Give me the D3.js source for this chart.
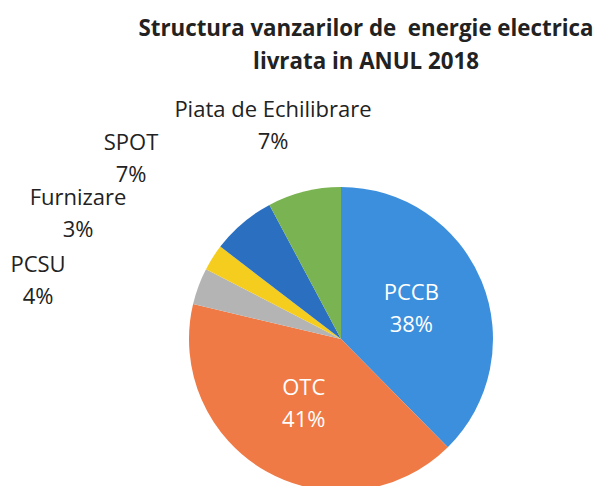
<!DOCTYPE html>
<html>
<head>
<meta charset="utf-8">
<script src="https://cdn.jsdelivr.net/npm/d3@7"></script>
<style>
  html, body { margin: 0; padding: 0; background: #fff; }
  text { white-space: pre; }
</style>
</head>
<body>
<svg id="chart" width="598" height="486"></svg>
<script>
// ---- data ----
const titleLines = ["Structura vanzarilor de  energie electrica", "livrata in ANUL 2018"];
const categories = ["PCCB", "OTC", "PCSU", "Furnizare", "SPOT", "Piata de Echilibrare"];
const shares = [37.6, 41.1, 3.9, 2.8, 6.8, 7.8];
const pctLabels = ["38%", "41%", "4%", "3%", "7%", "7%"];

// ---- style / layout ----
const colors = ["#3b8fdc", "#f07a45", "#b4b4b4", "#f5cd1f", "#2a6fc0", "#7ab351"];
const insideLabel = [true, true, false, false, false, false];
// outside label anchors (text centre, first-line baseline) relative to pie centre
const outsideAnchor = {
  "PCSU": [-303, -67],
  "Furnizare": [-263, -134],
  "SPOT": [-210, -189],
  "Piata de Echilibrare": [-68, -222]
};

const W = 598, H = 486;
const cx = 341, cy = 339, R = 152;
const lineGap = 32;
const labelFont = "'Open Sans', sans-serif";
const lblSize = 22;
const svg = d3.select("#chart");

// title
const title = svg.append("text")
  .attr("text-anchor", "middle")
  .attr("font-family", "'Open Sans', sans-serif")
  .attr("font-weight", "bold")
  .attr("font-size", 22.3)
  .attr("fill", "#222");
title.selectAll("tspan").data(titleLines).join("tspan")
  .attr("x", 366).attr("y", (d, i) => 36 + i * 33)
  .text(d => d);

const data = categories.map((c, i) => ({ name: c, value: shares[i], pct: pctLabels[i], color: colors[i], inside: insideLabel[i] }));

const pie = d3.pie().value(d => d.value).sort(null);
const arc = d3.arc().innerRadius(0).outerRadius(R);
const arcs = pie(data);

const g = svg.append("g").attr("transform", `translate(${cx},${cy})`);
g.selectAll("path").data(arcs).join("path")
  .attr("d", arc)
  .attr("fill", d => d.data.color);

// inside labels
const inArc = d3.arc().innerRadius(R * 0.5).outerRadius(R * 0.5);
arcs.filter(d => d.data.inside).forEach(d => {
  const [x, y] = inArc.centroid(d);
  const t = g.append("text")
    .attr("text-anchor", "middle")
    .attr("font-family", labelFont)
    .attr("font-size", lblSize)
    .attr("fill", "#fff");
  t.append("tspan").attr("x", x).attr("y", y - 10).text(d.data.name);
  t.append("tspan").attr("x", x).attr("y", y - 10 + lineGap).text(d.data.pct);
});

// outside labels
arcs.filter(d => !d.data.inside).forEach(d => {
  const [x, y] = outsideAnchor[d.data.name];
  const t = g.append("text")
    .attr("text-anchor", "middle")
    .attr("font-family", labelFont)
    .attr("font-size", lblSize)
    .attr("fill", "#222");
  t.append("tspan").attr("x", x).attr("y", y).text(d.data.name);
  t.append("tspan").attr("x", x).attr("y", y + lineGap).text(d.data.pct);
});
</script>
</body>
</html>
